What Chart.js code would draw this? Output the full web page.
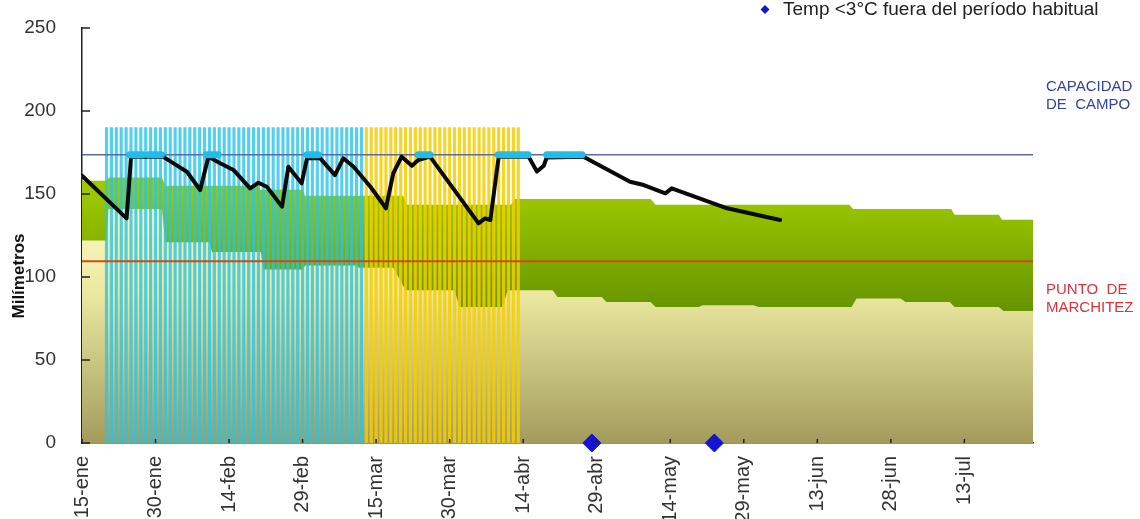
<!DOCTYPE html>
<html>
<head>
<meta charset="utf-8">
<script src="https://cdn.jsdelivr.net/npm/chart.js@4.4.1/dist/chart.umd.min.js"></script>
<style>
  html, body { margin: 0; padding: 0; background: #fff; }
  #wrap { position: relative; width: 1140px; height: 519px; }
</style>
</head>
<body>
<div id="wrap"><canvas id="balance"></canvas></div>
<script>
// x = days counted from 15-ene
const tickLabels = ["15-ene", "30-ene", "14-feb", "29-feb", "15-mar", "30-mar", "14-abr",
    "29-abr", "14-may", "29-may", "13-jun", "28-jun", "13-jul"];
const lastDay = 194;

// top of the green band
const upperDay = [0, 5, 5.5, 16.3, 17, 35.8, 36.3, 45, 45.5, 65.5, 66.3, 87.5, 88.3, 116, 117,
    156.5, 157.3, 177.3, 178, 187, 187.7, 194];
const upperMm = [158, 158, 160, 160, 155, 155, 152.5, 152.5, 149, 149, 143.5, 143.5, 147, 147, 143.5,
    143.5, 141, 141, 137.5, 137.5, 134.5, 134.5];

// top of the light band (bottom of the green one)
const lowerDay = [0, 5, 5.4, 16.3, 17, 26, 26.5, 36.5, 37, 45, 45.5, 56, 56.5, 63.5, 66, 76, 77, 85.8,
    86.8, 96, 97, 106, 107, 116, 117, 125.8, 126.6, 137, 138, 157, 158, 167, 168, 177, 178, 187, 188, 194];
const lowerMm = [122, 122, 141, 141, 121, 121, 115, 115, 104.5, 104.5, 107, 107, 105.5, 105.5, 92, 92, 82, 82,
    92, 92, 88, 88, 85, 85, 82, 82, 83, 83, 82, 82, 87, 87, 85, 85, 82, 82, 79.5, 79.5];

// soil water
const waterDay = [0, 9.1, 10, 16.5, 18.6, 21.4, 24.1, 25.8, 28.2, 30.9, 34.3, 36, 37.7, 40.8, 42.1, 44.8,
    45.9, 48.6, 51.6, 53.3, 55.4, 58.8, 62, 63.5, 65.2, 67.3, 68.6, 71, 80.9, 82.2, 83.3, 85, 91.1, 92.8,
    94.2, 94.8, 102.3, 111.8, 114.6, 119, 120.3, 131.6, 142.4];
const waterMm = [161, 135.3, 172.5, 172.5, 168.6, 163.4, 152.4, 172.5, 168.5, 164.5, 153.4, 156.8, 154.4, 142.4,
    166.4, 156.4, 171.5, 171.5, 161.4, 171.5, 166.4, 154.5, 141.4, 162.5, 172.5, 167, 170.5, 172.5, 132.3, 135.3,
    134.3, 172.5, 172.5, 163.5, 167, 172, 172.5, 157.4, 155.4, 150.4, 153.4, 141.4, 134.3];

// days at field capacity
const satStart = [9.7, 13.5, 25.3, 45.9, 68.6, 84.9, 94.8, 100.6];
const satEnd = [12.4, 16.2, 27.8, 48.2, 71, 91, 99.9, 102];

const cyanBarDays = [5, 6, 7, 8, 9, 10, 11, 12, 13, 14, 15, 16, 17, 18, 19, 20, 21, 22, 23, 24, 25, 26, 27, 28,
    29, 30, 31, 32, 33, 34, 35, 36, 37, 38, 39, 40, 41, 42, 43, 44, 45, 46, 47, 48, 49, 50, 51, 52, 53, 54,
    55, 56, 57];
const yellowBarDays = [58, 59, 60, 61, 62, 63, 64, 65, 66, 67, 68, 69, 70, 71, 72, 73, 74, 75, 76, 77, 78, 79,
    80, 81, 82, 83, 84, 85, 86, 87, 88, 89];
const barMm = 190;

const frostDay = [104, 129];
const frostMm = [0, 0];

const capacidadCampo = 173.7;
const puntoMarchitez = 109.5;

const pts = (xs, ys) => xs.map((d, i) => ({ x: d, y: ys[i] }));

let satPoints = [];
satStart.forEach((s, i) => {
    satPoints.push({ x: s, y: capacidadCampo }, { x: satEnd[i], y: capacidadCampo }, { x: satEnd[i], y: null });
});

function vGradient(context, stops) {
    const chart = context.chart;
    if (!chart.chartArea) return stops[0][1];
    const y = chart.scales.y;
    const top = y.getPixelForValue(stops[0][0]);
    const bottom = y.getPixelForValue(stops[stops.length - 1][0]);
    const g = chart.ctx.createLinearGradient(0, top, 0, bottom);
    stops.forEach(s => g.addColorStop((y.getPixelForValue(s[0]) - top) / (bottom - top), s[1]));
    return g;
}

const decor = {
    id: "decor",
    afterDraw(chart) {
        const { ctx, scales: { x, y } } = chart;
        ctx.save();
        ctx.strokeStyle = "#222";
        ctx.lineWidth = 1.5;
        ctx.beginPath();
        y.ticks.forEach(t => {
            const py = y.getPixelForValue(t.value);
            ctx.moveTo(x.left, py);
            ctx.lineTo(x.left + 8, py);
        });
        x.ticks.forEach(t => {
            if (t.value % 15 !== 0) return;
            const px = x.getPixelForValue(t.value);
            ctx.moveTo(px, y.bottom);
            ctx.lineTo(px, y.bottom - 4);
        });
        ctx.stroke();

        // y title
        ctx.save();
        ctx.translate(19, 276);
        ctx.rotate(-Math.PI / 2);
        ctx.font = "bold 17px 'Liberation Sans', Arial, sans-serif";
        ctx.fillStyle = "#111";
        ctx.textAlign = "center";
        ctx.textBaseline = "middle";
        ctx.fillText("Milímetros", 0, 0);
        ctx.restore();

        // legend
        ctx.fillStyle = "#1414d2";
        ctx.beginPath();
        ctx.moveTo(765, 5); ctx.lineTo(769.5, 9.5); ctx.lineTo(765, 14); ctx.lineTo(760.5, 9.5);
        ctx.closePath();
        ctx.fill();
        ctx.font = "19px 'Liberation Sans', Arial, sans-serif";
        ctx.fillStyle = "#222";
        ctx.textAlign = "left";
        ctx.textBaseline = "alphabetic";
        ctx.fillText("Temp <3°C fuera del período habitual", 783, 15);

        // labels on the right
        ctx.font = "15px 'Liberation Sans', Arial, sans-serif";
        ctx.textBaseline = "middle";
        ctx.fillStyle = "#3442a6";
        ctx.fillText("CAPACIDAD", 1046, 87);
        ctx.fillText("DE  CAMPO", 1046, 105);
        ctx.fillStyle = "#e0303c";
        ctx.fillText("PUNTO  DE", 1046, 290);
        ctx.fillText("MARCHITEZ", 1046, 308);
        ctx.restore();
    }
};

new Chart(document.getElementById("balance"), {
    type: "line",
    data: {
        datasets: [
            {
                type: "scatter",
                data: pts(frostDay, frostMm),
                showLine: false,
                clip: false,
                pointStyle: "rectRot",
                pointRadius: 9,
                pointBackgroundColor: "#1414d2",
                pointBorderColor: "#1414d2",
                order: 0
            },
            {
                data: satPoints,
                borderColor: "#22bde6",
                borderWidth: 7,
                borderCapStyle: "round",
                pointRadius: 0,
                spanGaps: false,
                order: 1
            },
            {
                data: pts(waterDay, waterMm),
                borderColor: "#0a0a0a",
                borderWidth: 4,
                borderJoinStyle: "round",
                borderCapStyle: "round",
                pointRadius: 0,
                order: 2
            },
            {
                data: [{ x: 0, y: capacidadCampo }, { x: lastDay, y: capacidadCampo }],
                borderColor: "#5a6aa8",
                borderWidth: 1.5,
                pointRadius: 0,
                order: 3
            },
            {
                data: [{ x: 0, y: puntoMarchitez }, { x: lastDay, y: puntoMarchitez }],
                borderColor: "#d04818",
                borderWidth: 2,
                pointRadius: 0,
                order: 4
            },
            {
                type: "bar",
                data: cyanBarDays.map(d => ({ x: d, y: barMm })),
                backgroundColor: "rgba(40, 196, 232, 0.8)",
                barThickness: 2.5,
                grouped: false,
                order: 5
            },
            {
                type: "bar",
                data: yellowBarDays.map(d => ({ x: d, y: barMm })),
                backgroundColor: "rgba(246, 206, 0, 0.85)",
                barThickness: 2.5,
                grouped: false,
                order: 6
            },
            {
                data: pts(lowerDay, lowerMm),
                borderWidth: 0,
                pointRadius: 0,
                fill: "origin",
                backgroundColor: c => vGradient(c, [[145, "#fbfbc4"], [90, "#ebe8a0"], [0, "#a39b5c"]]),
                order: 7
            },
            {
                data: pts(upperDay, upperMm),
                borderWidth: 0,
                pointRadius: 0,
                fill: "origin",
                backgroundColor: c => vGradient(c, [[150, "#9cc800"], [82, "#689600"]]),
                order: 8
            }
        ]
    },
    options: {
        responsive: true,
        maintainAspectRatio: false,
        animation: false,
        events: [],
        layout: { padding: { top: 28, right: 107, left: 0, bottom: 0 } },
        plugins: { legend: { display: false }, tooltip: { enabled: false } },
        scales: {
            x: {
                type: "linear",
                min: 0,
                max: lastDay,
                offset: false,
                z: 1,
                grid: { display: false },
                border: { display: true, color: "#222", width: 1.5 },
                ticks: {
                    stepSize: 15,
                    includeBounds: false,
                    autoSkip: false,
                    minRotation: 90,
                    maxRotation: 90,
                    padding: 5,
                    color: "#333",
                    font: { family: "'Liberation Sans', Arial, sans-serif", size: 20 },
                    callback: v => (v % 15 === 0 ? tickLabels[v / 15] : "")
                },
                afterFit: s => { s.height = 76; s.paddingLeft = 0; s.paddingRight = 0; }
            },
            y: {
                min: 0,
                max: 250,
                z: 1,
                grid: { display: false },
                border: { display: true, color: "#222", width: 1.5 },
                ticks: {
                    stepSize: 50,
                    padding: 18,
                    color: "#333",
                    font: { family: "'Liberation Sans', Arial, sans-serif", size: 19 }
                },
                afterFit: s => { s.width = 82; s.paddingTop = 0; s.paddingBottom = 0; }
            }
        }
    },
    plugins: [decor]
});
</script>
</body>
</html>
